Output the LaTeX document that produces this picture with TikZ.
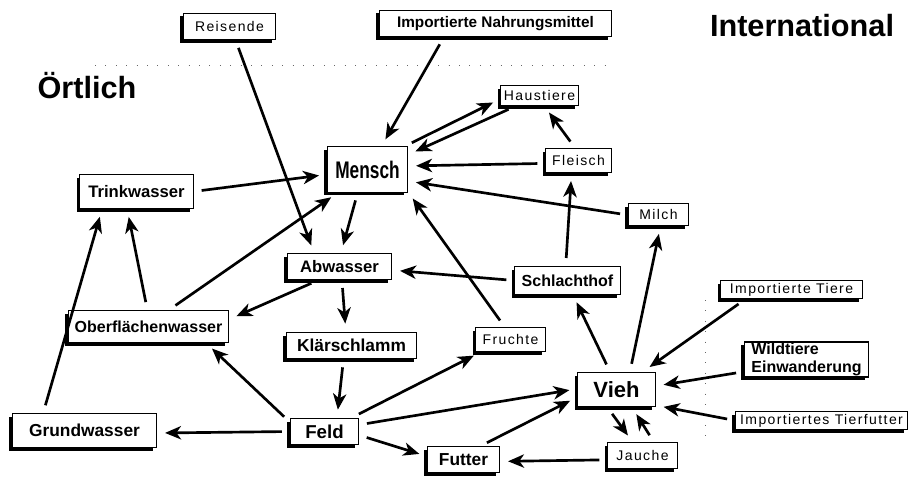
\documentclass[tikz,border=0pt]{standalone}
\usepackage{fontspec}
\setmainfont{Liberation Sans}
\newfontfamily\lightfont[LetterSpace=10]{Liberation Sans}
\newfontfamily\narrowfont[FakeStretch=0.72]{Liberation Sans}
\usetikzlibrary{arrows.meta,shadows}

\begin{document}
\begin{tikzpicture}[x=0.75pt,y=-0.75pt]
    \useasboundingbox (0,0) rectangle (909,477);

    % Define node styles
    \tikzstyle{bold_block} = [draw, fill=white, line width=0.8pt, drop shadow={shadow xshift=-2.5pt, shadow yshift=-2.5pt, fill=black, opacity=1}, inner sep=1pt, font=\bfseries\fontsize{12.5}{14}\selectfont]
    \tikzstyle{light_block} = [draw, fill=white, line width=0.8pt, drop shadow={shadow xshift=-2.5pt, shadow yshift=-2.5pt, fill=black, opacity=1}, inner sep=1pt, font=\lightfont\fontsize{10.5}{12}\selectfont]
    \tikzstyle{title_text} = [font=\bfseries\fontsize{23}{26}\selectfont]
    \tikzstyle{arrow_line} = [-{Stealth[length=12pt,width=10pt,inset=3.5pt]}, line width=2pt, shorten >=6pt, shorten <=6pt]
    \tikzstyle{border_line} = [black!60, line width=0.6pt, dash pattern=on 0.8pt off 7pt]

    % Draw titles and borders
    \node [title_text] (oertlich) at (87,86) {Örtlich};
    \node [title_text] (international) at (802,26) {International};
    \draw [border_line] (95,65) -- (612,65);
    \draw [border_line] (705,300) -- (705,436);

    % Draw nodes
    \node [light_block, minimum width=69pt, minimum height=20pt] (reisende) at (229.5,26.5) {Reisende};
    \node [bold_block, font=\bfseries\fontsize{11.5}{13}\selectfont, minimum width=174pt, minimum height=20pt] (imp_nahrung) at (495.5,23.5) {Importierte Nahrungsmittel};
    \node [bold_block, font=\narrowfont\bfseries\fontsize{18}{20}\selectfont, minimum width=60pt, minimum height=34pt] (mensch) at (367.5,169.5) {Mensch};
    \node [bold_block, minimum width=85pt, minimum height=25.5pt] (trinkwasser) at (136.5,191.5) {Trinkwasser};
    \node [light_block, minimum width=58pt, minimum height=15pt] (haustiere) at (539.5,95.5) {Haustiere};
    \node [light_block, minimum width=49pt, minimum height=18pt] (fleisch) at (578.5,160.5) {Fleisch};
    \node [light_block, minimum width=45pt, minimum height=16.5pt] (milch) at (658.5,214.5) {Milch};
    \node [bold_block, minimum width=78pt, minimum height=19.5pt] (abwasser) at (339.5,266.5) {Abwasser};
    \node [bold_block, font=\bfseries\fontsize{12}{14}\selectfont, minimum width=120pt, minimum height=24pt] (oberflaeche) at (148.5,326.5) {Oberflächenwasser};
    \node [bold_block, font=\bfseries\fontsize{13}{15}\selectfont, minimum width=98pt, minimum height=20pt] (klaerschlamm) at (351.5,345.5) {Klärschlamm};
    \node [bold_block, font=\bfseries\fontsize{13}{15}\selectfont, minimum width=108pt, minimum height=25.5pt] (grundwasser) at (84.5,430.5) {Grundwasser};
    \node [bold_block, font=\bfseries\fontsize{14}{16}\selectfont, minimum width=51pt, minimum height=20pt] (feld) at (324.5,431.5) {Feld};
    \node [bold_block, font=\bfseries\fontsize{13}{15}\selectfont, minimum width=54pt, minimum height=19pt] (futter) at (463.5,459.5) {Futter};
    \node [bold_block, font=\bfseries\fontsize{12}{14}\selectfont, minimum width=79pt, minimum height=21pt] (schlachthof) at (567.5,280.5) {Schlachthof};
    \node [light_block, minimum width=52pt, minimum height=18pt] (fruechte) at (510.5,339.5) {Fruchte};
    \node [bold_block, font=\bfseries\fontsize{16.5}{18}\selectfont, minimum width=58pt, minimum height=26pt] (vieh) at (616.5,389.5) {Vieh};
    \node [light_block, minimum width=52pt, minimum height=19.5pt] (jauche) at (642.5,455.5) {Jauche};
    \node [light_block, minimum width=106pt, minimum height=14pt] (imp_tiere) at (791.5,289.5) {Importierte Tiere};
    \node [bold_block, font=\bfseries\fontsize{12}{13}\selectfont, align=left, minimum width=93pt, minimum height=26pt, inner xsep=4pt] (wildtiere) at (806.5,359.5) {Wildtiere\\Einwanderung};
    \node [light_block, minimum width=129pt, minimum height=13pt] (imp_futter) at (821.5,420.5) {Importiertes Tierfutter};

    % Draw arrows
    \draw [arrow_line] (reisende.-66) -- (abwasser.152);
    \draw [arrow_line] (imp_nahrung.195) -- (mensch.59);
    \draw [arrow_line] (mensch.32) -- (haustiere.185);
    \draw [arrow_line] (haustiere.204) -- (mensch.20);
    \draw [arrow_line] (fleisch.185) -- (mensch.5);
    \draw [arrow_line] (fleisch.105) -- (haustiere.-66);
    \draw [arrow_line] (milch.181) -- (mensch.-16);
    \draw [arrow_line] (schlachthof.97) -- (fleisch.241);
    \draw [arrow_line] (vieh.53) -- (milch.-80);
    \draw [arrow_line] (schlachthof.180) -- (abwasser.-4);
    \draw [arrow_line] (fruechte.115) -- (mensch.-29);
    \draw [arrow_line] (trinkwasser.0) -- (mensch.187);
    \draw [arrow_line] (mensch.247) -- (abwasser.84);
    \draw [arrow_line] (oberflaeche.39) -- (mensch.218);
    \draw [arrow_line] (oberflaeche.94) -- (trinkwasser.242);
    \draw [arrow_line] (grundwasser.157) -- (trinkwasser.207);
    \draw [arrow_line] (abwasser.213) -- (oberflaeche.5);
    \draw [arrow_line] (abwasser.-80) -- (klaerschlamm.112);
    \draw [arrow_line] (klaerschlamm.240) -- (feld.48);
    \draw [arrow_line] (feld.165) -- (oberflaeche.-16);
    \draw [arrow_line] (feld.180) -- (grundwasser.-2);
    \draw [arrow_line] (feld.27) -- (fruechte.203);
    \draw [arrow_line] (feld.11) -- (vieh.179);
    \draw [arrow_line] (feld.-6) -- (futter.175);
    \draw [arrow_line] (futter.39) -- (vieh.191);
    \draw [arrow_line] (vieh.110) -- (schlachthof.-69);
    \draw [arrow_line] (vieh.243) -- (jauche.126);
    \draw [arrow_line] (jauche.50) -- (vieh.-49);
    \draw [arrow_line] (jauche.187) -- (futter.-3);
    \draw [arrow_line] (imp_tiere.192) -- (vieh.34);
    \draw [arrow_line] (wildtiere.191) -- (vieh.5);
    \draw [arrow_line] (imp_futter.180) -- (vieh.-22);
\end{tikzpicture}
\end{document}
